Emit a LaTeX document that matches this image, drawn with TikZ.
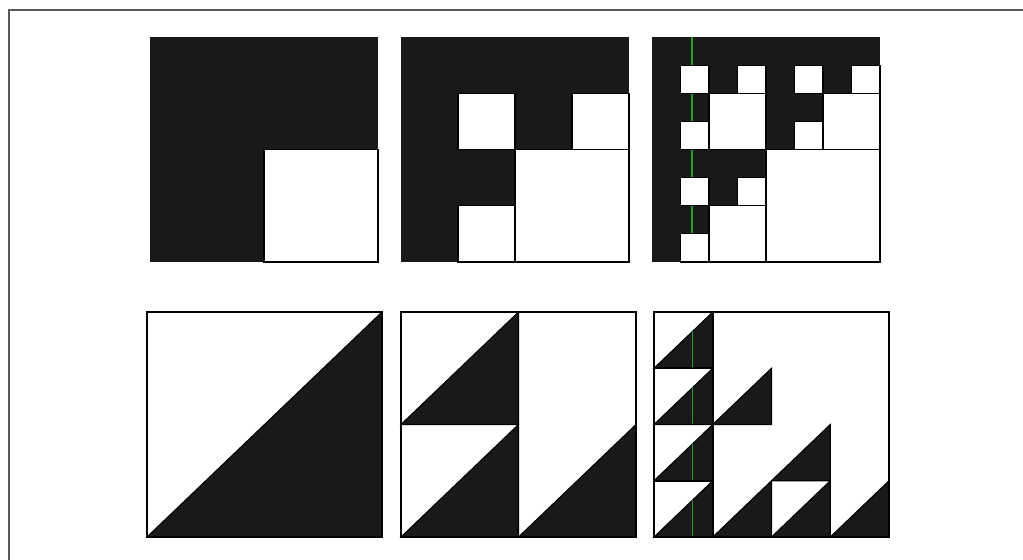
\documentclass[tikz,border=0pt]{standalone}
\usepackage{tikz}

\begin{document}
\begin{tikzpicture}[x=0.02cm, y=-0.02cm,
		blk/.style={fill=black!90, draw=black, line width=0.6pt, line join=miter},
		hole/.style={fill=white, draw=black, line width=0.7pt},
		box/.style={draw=black, line width=1.1pt},
		scan/.style={draw=green!55!black!85, line width=0.8pt}]
			\useasboundingbox (0,0) rectangle (1023,560);
			% Page frame:
			\draw[black!65, line width=0.8pt] (9,560) -- (9,10) -- (1023,10);
			% Top row, squares:
			\begin{scope}[shift={(150,37)}, xscale=114, yscale=112.5]
				\fill[black!90] (0,0) rectangle (2,2);
				\draw[hole] (1,1) rectangle (2,2);
			\end{scope}
			\begin{scope}[shift={(401,37)}, xscale=57, yscale=56.25]
				\fill[black!90] (0,0) rectangle (4,4);
				\draw[hole] (1,1) rectangle (2,2);
				\draw[hole] (3,1) rectangle (4,2);
				\draw[hole] (1,3) rectangle (2,4);
				\draw[hole] (2,2) rectangle (4,4);
			\end{scope}
			\begin{scope}[shift={(652,37)}, xscale=28.5, yscale=28.125]
				\fill[black!90] (0,0) rectangle (8,8);
				\draw[scan] (1.4,0) -- (1.4,8);
				\foreach \c/\r in {1/1, 3/1, 5/1, 7/1, 1/3, 5/3, 1/5, 3/5, 1/7}
					\draw[hole] (\c,\r) rectangle ++(1,1);
				\foreach \c/\r in {2/2, 6/2, 2/6}
					\draw[hole] (\c,\r) rectangle ++(2,2);
				\draw[hole] (4,4) rectangle (8,8);
			\end{scope}
			% Bottom row, triangles:
			\begin{scope}[shift={(147,312)}, xscale=235, yscale=225]
				\filldraw[blk] (0,1) -- (1,0) -- (1,1) -- cycle;
				\draw[box] (0,0) rectangle (1,1);
			\end{scope}
			\begin{scope}[shift={(401,312)}, xscale=117.5, yscale=112.5]
				\foreach \c/\r in {0/0, 0/1, 1/1}
					\filldraw[blk] (\c,\r+1) -- (\c+1,\r) -- (\c+1,\r+1) -- cycle;
				\draw[box] (1,0) -- (1,2);
				\draw[box] (0,1) -- (1,1);
				\draw[box] (0,0) rectangle (2,2);
			\end{scope}
			\begin{scope}[shift={(654,312)}, xscale=58.75, yscale=56.25]
				\foreach \c/\r in {0/0, 0/1, 0/2, 0/3, 1/1, 1/3, 2/2, 2/3, 3/3}
					\filldraw[blk] (\c,\r+1) -- (\c+1,\r) -- (\c+1,\r+1) -- cycle;
				\begin{scope}
					\clip (0,1) -- (1,0) -- (1,1) -- cycle (0,2) -- (1,1) -- (1,2) -- cycle
						(0,3) -- (1,2) -- (1,3) -- cycle (0,4) -- (1,3) -- (1,4) -- cycle;
					\draw[scan] (0.66,0) -- (0.66,4);
				\end{scope}
				\draw[box] (1,0) -- (1,4);
				\draw[box] (0,1) -- (1,1) (0,2) -- (1,2) (0,3) -- (1,3);
				\draw[box] (0,0) rectangle (4,4);
			\end{scope}
		\end{tikzpicture}
\end{document}
